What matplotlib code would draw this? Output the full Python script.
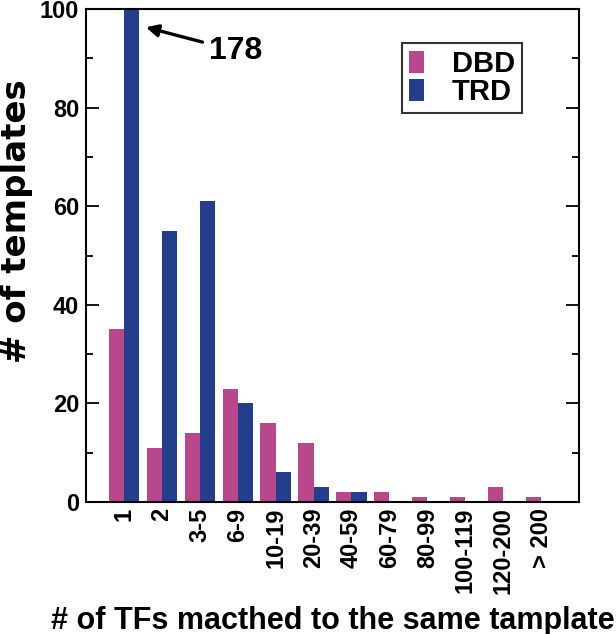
import matplotlib
matplotlib.use("Agg")
import matplotlib.pyplot as plt
import numpy as np
from matplotlib.ticker import MultipleLocator

categories = ["1", "2", "3-5", "6-9", "10-19", "20-39", "40-59", "60-79",
              "80-99", "100-119", "120-200", "> 200"]
dbd = [35, 11, 14, 23, 16, 12, 2, 2, 1, 1, 3, 1]
trd = [178, 55, 61, 20, 6, 3, 2, 0, 0, 0, 0, 0]

plt.rcParams['font.family'] = ['Liberation Sans', 'DejaVu Sans']
plt.rcParams['font.weight'] = 'bold'

fig = plt.figure(figsize=(6.16, 6.34), dpi=100)
ax = fig.add_axes([0.1396, 0.2082, 0.940 - 0.1396, 0.9858 - 0.2082])

x = np.arange(1, len(categories) + 1)
w = 0.4
ax.bar(x - w / 2, dbd, width=w, color='#B8478C', label='DBD')
ax.bar(x + w / 2, trd, width=w, color='#233E8A', label='TRD')

ax.set_xlim(0, 13)
ax.set_ylim(0, 100)
ax.set_xticks(x)
ax.set_xticklabels(categories, rotation=90, fontsize=17, fontweight='bold')
ax.tick_params(axis='x', length=0, pad=4)
ax.yaxis.set_major_locator(MultipleLocator(20))
ax.yaxis.set_minor_locator(MultipleLocator(10))
ax.tick_params(axis='y', which='major', direction='in', length=9.5, width=1.3,
               right=True, labelsize=17, pad=5)
ax.tick_params(axis='y', which='minor', direction='in', length=4.7, width=1.3,
               right=True)
for lab in ax.get_yticklabels():
    lab.set_fontweight('bold')
for s in ax.spines.values():
    s.set_linewidth(1.5)

ax.set_ylabel('# of templates', fontsize=24.5, fontweight='bold',
              family=['DejaVu Sans'])
ax.yaxis.set_label_coords(-0.1075, 0.57)
ax.set_xlabel('# of TFs macthed to the same tamplate', fontsize=22,
              fontweight='bold', labelpad=8)

ax.annotate(str(trd[0]), xy=(1.58, 96.3), xytext=(3.25, 91.5),
            ha='left', va='center', fontsize=23, fontweight='bold',
            arrowprops=dict(arrowstyle='-|>', lw=2.4, color='k',
                            shrinkA=3, shrinkB=0, mutation_scale=18))

leg = ax.legend(loc='upper left', bbox_to_anchor=(0.641, 0.9315), fontsize=21,
                handlelength=0.52, handleheight=0.78, handletextpad=0.95,
                labelspacing=0.0, borderpad=0.24, fancybox=False,
                frameon=True, edgecolor='black', borderaxespad=0)
leg.get_frame().set_linewidth(1.5)
for t in leg.get_texts():
    t.set_fontweight('bold')

fig.savefig('out.png', dpi=100)
